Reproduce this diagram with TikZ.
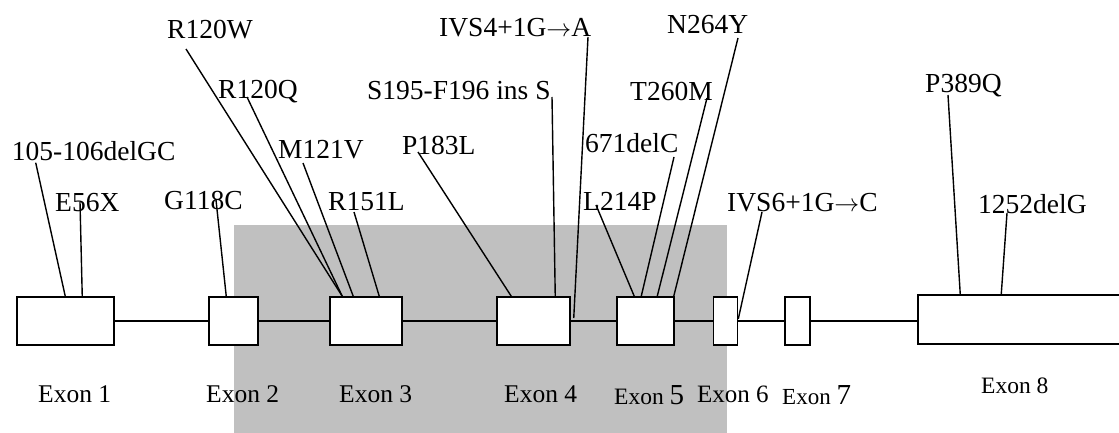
\documentclass[tikz,border=0pt]{standalone}
\usepackage{fontspec}
\setmainfont{Liberation Serif}
\usetikzlibrary{positioning,calc}
\definecolor{shadegray}{RGB}{192,192,192}

\begin{document}
\begin{tikzpicture}[
  x=1pt,y=-1pt,
  exon/.style={draw=black,line width=1.5pt,fill=white,inner sep=0pt,minimum height=48pt},
  mut/.style={inner sep=0pt,anchor=base west,font=\fontsize{27.5}{30}\selectfont},
  exlabel/.style={inner sep=0pt,anchor=base west,font=\fontsize{25.5}{28}\selectfont},
  link/.style={line width=1.4pt}
]
  \clip (0,0) rectangle (1119,433);
  \fill[shadegray] (234,225) rectangle (727,433);

  % exons
  \node[exon, minimum width=97pt] (e1) at (65.5,321) {};
  \node[exon, minimum width=49pt] (e2) at (233.5,321) {};
  \node[exon, minimum width=72pt] (e3) at (366,321) {};
  \node[exon, minimum width=73pt] (e4) at (533.5,321) {};
  \node[exon, minimum width=57pt] (e5) at (645.5,321) {};
  \node[exon, minimum width=24pt] (e6) at (725.5,321) {};
  \node[exon, minimum width=25pt] (e7) at (797.5,321) {};
  \node[exon, minimum width=220pt, minimum height=49pt] (e8) at (1028,319.5) {};
  \foreach \a/\b in {e1/e2,e2/e3,e3/e4,e4/e5,e5/e6,e6/e7}
    \draw[link] (\a.east) -- (\b.west);
  \draw[link] (e7.east) -- (e7.east -| e8.west);

  % exon names
  \node[exlabel] (x1) at (38,402) {Exon 1};
  \node[exlabel] (x2) at (206,402) {Exon 2};
  \node[exlabel] (x3) at (339,402) {Exon 3};
  \node[exlabel] (x4) at (504,402) {Exon 4};
  \node[exlabel, font=\fontsize{23.5}{26}\selectfont] (x5) at (614,404) {Exon {\fontsize{29}{32}\selectfont 5}};
  \node[exlabel, font=\fontsize{25}{28}\selectfont] (x6) at (697,402) {Exon 6};
  \node[exlabel, font=\fontsize{23}{26}\selectfont] (x7) at (782,404) {Exon {\fontsize{29}{32}\selectfont 7}};
  \node[exlabel, font=\fontsize{23.5}{26}\selectfont] (x8) at (981,393) {Exon 8};

  % mutations
  \node[mut] (m105) at (11.7,160.7) {105-106delGC};
  \node[mut] (mE56X) at (55,211) {E56X};
  \node[mut] (mG118C) at (164,209) {G118C};
  \node[mut] (mR120W) at (167,39) {R120W};
  \node[mut] (mR120Q) at (218,99) {R120Q};
  \node[mut] (mM121V) at (278,159) {M121V};
  \node[mut] (mR151L) at (328,210) {R151L};
  \node[mut] (mP183L) at (402,154) {P183L};
  \node[mut] (mS195) at (367,100) {S195-F196 ins S};
  \node[mut] (mIVS4) at (439,37) {IVS4+1G$\rightarrow$A};
  \node[mut] (mL214P) at (583,210) {L214P};
  \node[mut] (m671) at (585,153) {671delC};
  \node[mut] (mT260M) at (630,101) {T260M};
  \node[mut] (mN264Y) at (667,34) {N264Y};
  \node[mut] (mIVS6) at (727,211) {IVS6+1G$\rightarrow$C};
  \node[mut] (mP389Q) at (925,93) {P389Q};
  \node[mut] (m1252) at (978,213) {1252delG};

  \draw[link] ([xshift=24pt,yshift=-2pt]m105.base west) -- ([xshift=49pt]e1.north west);
  \draw[link] ([xshift=25pt,yshift=9pt]mE56X.base west) -- ([xshift=66pt]e1.north west);
  \draw[link] ([xshift=52pt,yshift=9pt]mG118C.base west) -- ([xshift=18pt]e2.north west);
  \draw[link] ([xshift=19pt,yshift=-10pt]mR120W.base west) -- ([xshift=13pt]e3.north west);
  \draw[link] ([xshift=29pt,yshift=2pt]mR120Q.base west) -- ([xshift=13pt]e3.north west);
  \draw[link] ([xshift=25pt,yshift=-4pt]mM121V.base west) -- ([xshift=24pt]e3.north west);
  \draw[link] ([xshift=26pt,yshift=-2pt]mR151L.base west) -- ([xshift=50pt]e3.north west);
  \draw[link] ([xshift=16pt,yshift=2pt]mP183L.base west) -- ([xshift=15pt]e4.north west);
  \draw[link] ([xshift=185pt,yshift=3pt]mS195.base west) -- ([xshift=59pt]e4.north west);
  \draw[link] ([xshift=149pt]mIVS4.base west) -- ([xshift=3pt,yshift=3pt]e4.east);
  \draw[link] ([xshift=13pt,yshift=5pt]mL214P.base west) -- ([xshift=18pt]e5.north west);
  \draw[link] ([xshift=89pt,yshift=-4pt]m671.base west) -- ([xshift=25pt]e5.north west);
  \draw[link] ([xshift=77pt,yshift=3pt]mT260M.base west) -- ([xshift=41pt]e5.north west);
  \draw[link] ([xshift=71pt,yshift=-4pt]mN264Y.base west) -- ([xshift=-1pt]e5.north east);
  \draw[link] ([xshift=35pt,yshift=-1pt]mIVS6.base west) -- ([yshift=2pt]e6.east);
  \draw[link] ([xshift=23pt,yshift=-2pt]mP389Q.base west) -- ([xshift=43pt]e8.north west);
  \draw[link] ([xshift=29pt]m1252.base west) -- ([xshift=84pt]e8.north west);
\end{tikzpicture}
\end{document}
